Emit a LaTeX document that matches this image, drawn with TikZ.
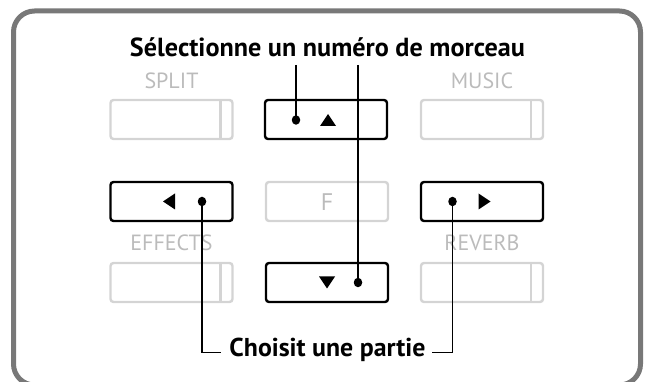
\documentclass[tikz,border=0pt]{standalone}
\usepackage{fontspec}
\setmainfont{PT Sans}
\usetikzlibrary{shapes.geometric}
\begin{document}
\begin{tikzpicture}[x=1pt,y=-1pt,
  graybtn/.style={draw=btngray,line width=2.4pt,rounded corners=3pt,minimum width=122pt,minimum height=39pt,inner sep=0pt,outer sep=0pt},
  blackbtn/.style={draw=black,line width=2.4pt,rounded corners=3pt,minimum width=122pt,minimum height=39pt,inner sep=0pt,outer sep=0pt},
  lbl/.style={text=lblgray,font=\fontsize{22}{22}\selectfont,inner sep=0pt},
  bdot/.style={fill=black,ellipse,minimum width=8.5pt,minimum height=9.5pt,inner sep=0pt,outer sep=0pt},
  btitle/.style={font=\bfseries\fontsize{20}{20}\selectfont,inner sep=0pt,anchor=base},
  wire/.style={draw=black,line width=1.3pt}
]
\definecolor{btngray}{HTML}{D4D4D4}
\definecolor{lblgray}{HTML}{BBBBBB}
\definecolor{framegray}{HTML}{787878}
\useasboundingbox (0,0) rectangle (646,382);
\draw[framegray,line width=5pt,rounded corners=21pt] (13.5,11) rectangle (640.5,385);

% labels
\node[lbl] (lsplit) at (171.5,80.5) {SPLIT};
\node[lbl] (lmusic) at (482,80.5) {MUSIC};
\node[lbl] (leff) at (171.5,243) {EFFECTS};
\node[lbl] (lrev) at (482,243) {REVERB};

% gray buttons
\node[graybtn] (g1) at (171.5,119.5) {};
\node[graybtn] (g2) at (482,119.5) {};
\node[graybtn] (g3) at (171.5,282.5) {};
\node[graybtn] (g4) at (482,282.5) {};
\node[graybtn] (gf) at (327,201.5) {};
\node[lbl,font=\fontsize{24}{24}\selectfont] (lf) at (327,202) {F};
\foreach \g in {g1,g2,g3,g4}{
  \draw[btngray,line width=2.4pt] ([xshift=-12pt]\g.north east) -- ([xshift=-12pt]\g.south east);
}

% black buttons
\node[blackbtn] (up) at (326,119.5) {};
\node[blackbtn] (left) at (171.5,201.5) {};
\node[blackbtn] (right) at (482,201.5) {};
\node[blackbtn] (down) at (327,282.5) {};

% triangles
\fill (320,126) -- (336,126) -- (328,114) -- cycle;
\fill (319,276.5) -- (335,276.5) -- (327,288.5) -- cycle;
\fill (175,193.5) -- (175,209.5) -- (163,201.5) -- cycle;
\fill (478.5,193.5) -- (478.5,209.5) -- (490.5,201.5) -- cycle;

% dots
\node[bdot] (dup) at (296,120) {};
\node[bdot] (ddown) at (358,282.5) {};
\node[bdot] (dleft) at (202,201.5) {};
\node[bdot] (dright) at (452.5,201.5) {};

% titles
\node[btitle] (t1) at (327.5,56.5) {\resizebox{395pt}{!}{Sélectionne un numéro de morceau}};
\node[btitle] (t2) at (327.5,356.5) {\resizebox{196pt}{!}{Choisit une partie}};

\coordinate (c1) at (296,65);
\coordinate (c2) at (358,65);
\coordinate (c3) at (220.5,352.5);
\coordinate (c4) at (432,352.5);

\draw[wire] (c1) -- (dup.center);
\draw[wire] (c2) -- (ddown.center);
\draw[wire] (dleft.center) |- (c3);
\draw[wire] (dright.center) |- (c4);
\end{tikzpicture}
\end{document}
